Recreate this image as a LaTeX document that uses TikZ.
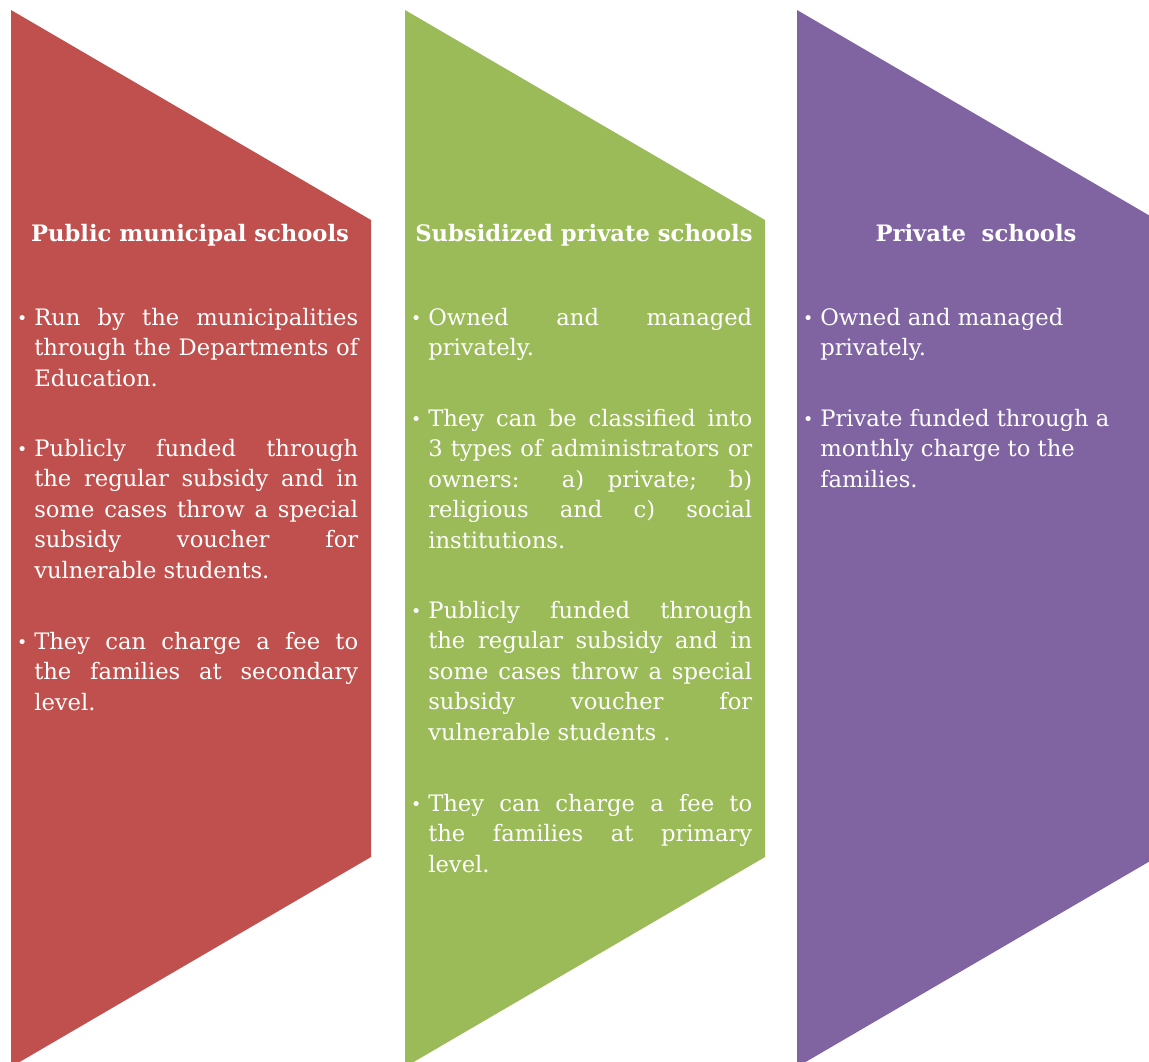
\documentclass[tikz,border=0pt]{standalone}
\usepackage{fontspec}
\setmainfont{DejaVu Serif}
\definecolor{munired}{HTML}{C0504D}
\definecolor{subgreen}{HTML}{9BBB59}
\definecolor{privpurple}{HTML}{8064A2}
\newlength\px \setlength\px{0.75pt}
\newlength\colw \setlength\colw{324\px}
% one justified line of a column
\newcommand\jl[1]{\makebox[\colw][s]{#1}}
% bullet hung to the left of the first line
\newcommand\bul{\leavevmode\llap{\raisebox{1\px}{\fontsize{13}{13}\selectfont\textbullet}\hspace{7\px}}}
\tikzset{
  panel/.style={fill=#1, draw=none},
  heading/.style={anchor=base, inner sep=0pt, text=white,
    font=\bfseries\fontsize{17}{23}\selectfont},
  bullets/.style={anchor=base west, inner sep=0pt, text=white,
    font=\fontsize{17}{22.95}\selectfont, align=left},
}
\begin{document}
\begin{tikzpicture}[x=0.75pt, y=-0.75pt]
\fill[white] (0,0) rectangle (1149,1061);
\clip (0,0) rectangle (1149,1061);
\useasboundingbox (0,0) rectangle (1149,1061);

% chevron panels
\fill[panel=munired]    (11,10)  -- (371,220)  -- (371,857)  -- (11,1067)  -- cycle;
\fill[panel=subgreen]   (405,10) -- (765,220)  -- (765,857)  -- (405,1067) -- cycle;
\fill[panel=privpurple] (797,10) -- (1157,220) -- (1157,857) -- (797,1067) -- cycle;

% headings
\node[heading] (h1) at (190,241) {Public municipal schools};
\node[heading] (h2) at (584,241) {Subsidized private schools};
\node[heading] (h3) at (976,241) {Private\ \ schools};

% public municipal schools
\node[bullets] (r1) at (34,325) {\parbox[t]{\colw}{\raggedright
  \bul\jl{Run by the municipalities}\\
  \jl{through the Departments of}\\
  Education.}};
\node[bullets] (r2) at (34,456) {\parbox[t]{\colw}{\raggedright
  \bul\jl{Publicly funded through}\\
  \jl{the regular subsidy and in}\\
  \jl{some cases throw a special}\\
  \jl{subsidy voucher for}\\
  vulnerable students.}};
\node[bullets] (r3) at (34,649) {\parbox[t]{\colw}{\raggedright
  \bul\jl{They can charge a fee to}\\
  \jl{the families at secondary}\\
  level.}};

% subsidized private schools
\node[bullets] (g1) at (428,325) {\parbox[t]{\colw}{\raggedright
  \bul\jl{Owned and managed}\\
  privately.}};
\node[bullets] (g2) at (428,426) {\parbox[t]{\colw}{\raggedright
  \bul\jl{They can be classified into}\\
  \jl{3 types of administrators or}\\
  \jl{owners: a) private; b)}\\
  \jl{religious and c) social}\\
  institutions.}};
\node[bullets] (g3) at (428,618) {\parbox[t]{\colw}{\raggedright
  \bul\jl{Publicly funded through}\\
  \jl{the regular subsidy and in}\\
  \jl{some cases throw a special}\\
  \jl{subsidy voucher for}\\
  vulnerable students .}};
\node[bullets] (g4) at (428,811) {\parbox[t]{\colw}{\raggedright
  \bul\jl{They can charge a fee to}\\
  \jl{the families at primary}\\
  level.}};

% private schools
\node[bullets] (p1) at (820,325) {\parbox[t]{\colw}{\raggedright
  \bul Owned and managed\\
  privately.}};
\node[bullets] (p2) at (820,426) {\parbox[t]{\colw}{\raggedright
  \bul Private funded through a\\
  monthly charge to the\\
  families.}};
\end{tikzpicture}
\end{document}
